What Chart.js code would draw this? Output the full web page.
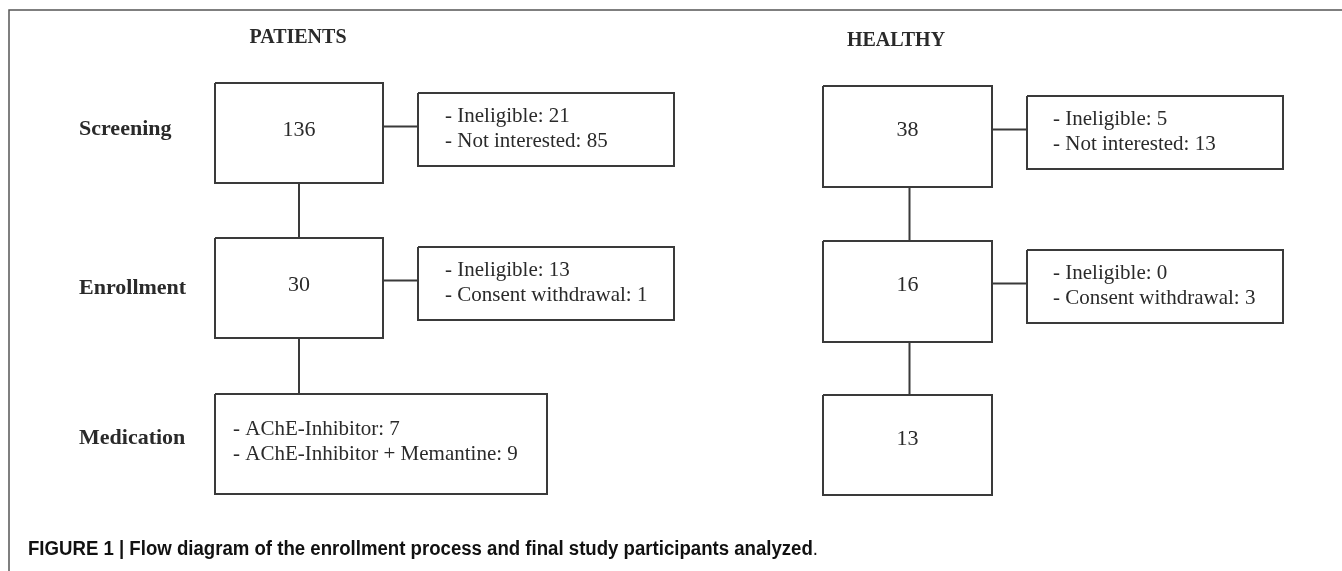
<!DOCTYPE html>
<html>
<head>
<meta charset="utf-8">
<script src="https://cdn.jsdelivr.net/npm/chart.js@4"></script>
<style>
  html, body { margin: 0; padding: 0; background: #fff; }
  #wrap { width: 1342px; height: 571px; }
</style>
</head>
<body>
<div id="wrap"><canvas id="flowChart"></canvas></div>
<script>
// data
const groups = ['PATIENTS', 'HEALTHY'];
const stages = ['Screening', 'Enrollment', 'Medication'];
const patientCounts = [136, 30];
const healthyCounts = [38, 16, 13];
const exclusionLabels = [['Ineligible', 'Not interested'], ['Ineligible', 'Consent withdrawal']];
const patientExcluded = [[21, 85], [13, 1]];
const healthyExcluded = [[5, 13], [0, 3]];
const medicationLabels = ['AChE-Inhibitor', 'AChE-Inhibitor + Memantine'];
const medicationCounts = [7, 9];
const caption = 'FIGURE 1 | Flow diagram of the enrollment process and final study participants analyzed';

// layout (chart units = pixels of the figure, y downwards)
const mainCols = [[215, 383], [823, 992]];
const sideCols = [[418, 674], [1027, 1283]];
const medCol = [215, 547];
const patientRows = [[83, 183], [238, 338], [394, 494]];
const healthyRows = [[86, 187], [241, 342], [395, 495]];
const patientSideRows = [[93, 166], [247, 320]];
const healthySideRows = [[96, 169], [250, 323]];
const titlePos = [[298, 38], [896, 41]];
const stageY = [129, 288, 438];
const stageX = 79;

const boxColor = '#3a3a3a';

function rect(l, r, t, b) {
    return [{x: l, y: t}, {x: r, y: t}, {x: r, y: b}, {x: l, y: b}, {x: l, y: t}];
}
function lineDs(points, width, color) {
    return {
        type: 'line', data: points, borderColor: color || boxColor, borderWidth: width || 2,
        pointRadius: 0, fill: false, tension: 0, showLine: true
    };
}

let datasets = [];
// outer frame (top + left)
datasets.push(lineDs([{x: 9, y: 571}, {x: 9, y: 10}, {x: 1342, y: 10}], 1.5, '#555'));

// text items collected for the plugin
let texts = [];

// patients column
[0, 1].forEach(function (i) {
    let c = mainCols[0], r = patientRows[i];
    datasets.push(lineDs(rect(c[0], c[1], r[0], r[1])));
    texts.push({x: (c[0] + c[1]) / 2, y: (r[0] + r[1]) / 2 - 3, s: String(patientCounts[i]), align: 'center', big: true});
    let sc = sideCols[0], sr = patientSideRows[i];
    datasets.push(lineDs(rect(sc[0], sc[1], sr[0], sr[1])));
    let my = (sr[0] + sr[1]) / 2 - 3;
    datasets.push(lineDs([{x: c[1], y: my}, {x: sc[0], y: my}]));
    exclusionLabels[i].forEach(function (lab, k) {
        texts.push({x: sc[0] + 27, y: my - 10 + k * 25, s: '- ' + lab + ': ' + patientExcluded[i][k], align: 'left'});
    });
    let cx = (c[0] + c[1]) / 2;
    datasets.push(lineDs([{x: cx, y: r[1]}, {x: cx, y: patientRows[i + 1][0]}]));
});
// medication box
let mr = patientRows[2];
datasets.push(lineDs(rect(medCol[0], medCol[1], mr[0], mr[1])));
medicationLabels.forEach(function (lab, k) {
    texts.push({x: medCol[0] + 18, y: 429 + k * 25, s: '- ' + lab + ': ' + medicationCounts[k], align: 'left'});
});

// healthy column
[0, 1, 2].forEach(function (i) {
    let c = mainCols[1], r = healthyRows[i];
    datasets.push(lineDs(rect(c[0], c[1], r[0], r[1])));
    texts.push({x: (c[0] + c[1]) / 2, y: (r[0] + r[1]) / 2 - 6, s: String(healthyCounts[i]), align: 'center', big: true});
    if (i < 2) {
        let sc = sideCols[1], sr = healthySideRows[i];
        datasets.push(lineDs(rect(sc[0], sc[1], sr[0], sr[1])));
        let my = (sr[0] + sr[1]) / 2 - 3;
        datasets.push(lineDs([{x: c[1], y: my}, {x: sc[0], y: my}]));
        exclusionLabels[i].forEach(function (lab, k) {
            texts.push({x: sc[0] + 26, y: my - 10 + k * 25, s: '- ' + lab + ': ' + healthyExcluded[i][k], align: 'left'});
        });
        let cx = (c[0] + c[1]) / 2 + 2;
        datasets.push(lineDs([{x: cx, y: r[1]}, {x: cx, y: healthyRows[i + 1][0]}]));
    }
});

const textPlugin = {
    id: 'flowText',
    afterDatasetsDraw(chart) {
        const ctx = chart.ctx;
        const xs = chart.scales.x, ys = chart.scales.y;
        ctx.save();
        ctx.textBaseline = 'middle';
        ctx.fillStyle = '#2a2a2a';

        // group titles
        ctx.font = 'bold 20px "Liberation Serif", serif';
        ctx.textAlign = 'center';
        groups.forEach(function (g, i) {
            ctx.fillText(g, xs.getPixelForValue(titlePos[i][0]), ys.getPixelForValue(titlePos[i][1]));
        });
        // stage labels
        ctx.font = 'bold 22px "Liberation Serif", serif';
        ctx.textAlign = 'left';
        stages.forEach(function (s, i) {
            ctx.fillText(s, xs.getPixelForValue(stageX), ys.getPixelForValue(stageY[i]));
        });
        // box text
        texts.forEach(function (t) {
            ctx.font = (t.big ? '22px' : '21px') + ' "Liberation Serif", serif';
            ctx.textAlign = t.align;
            ctx.fillText(t.s, xs.getPixelForValue(t.x), ys.getPixelForValue(t.y));
        });

        // caption, squeezed to the condensed width of the original
        ctx.fillStyle = '#111';
        ctx.textAlign = 'left';
        const bold = 'bold 20px "Liberation Sans", Arial, sans-serif';
        const plain = '20px "Liberation Sans", Arial, sans-serif';
        ctx.font = bold;
        let w1 = ctx.measureText(caption).width;
        ctx.font = plain;
        let w2 = ctx.measureText('.').width;
        let k = 790 / (w1 + w2);
        ctx.translate(xs.getPixelForValue(28), ys.getPixelForValue(549));
        ctx.scale(k, 1);
        ctx.font = bold;
        ctx.fillText(caption, 0, 0);
        ctx.font = plain;
        ctx.fillText('.', w1, 0);
        ctx.restore();
    }
};

new Chart(document.getElementById('flowChart'), {
    type: 'scatter',
    data: { datasets: datasets },
    options: {
        responsive: true,
        maintainAspectRatio: false,
        animation: false,
        layout: { padding: 0 },
        plugins: { legend: { display: false }, tooltip: { enabled: false } },
        scales: {
            x: { type: 'linear', min: 0, max: 1342, display: false },
            y: { type: 'linear', min: 0, max: 571, reverse: true, display: false }
        }
    },
    plugins: [textPlugin]
});
</script>
</body>
</html>
